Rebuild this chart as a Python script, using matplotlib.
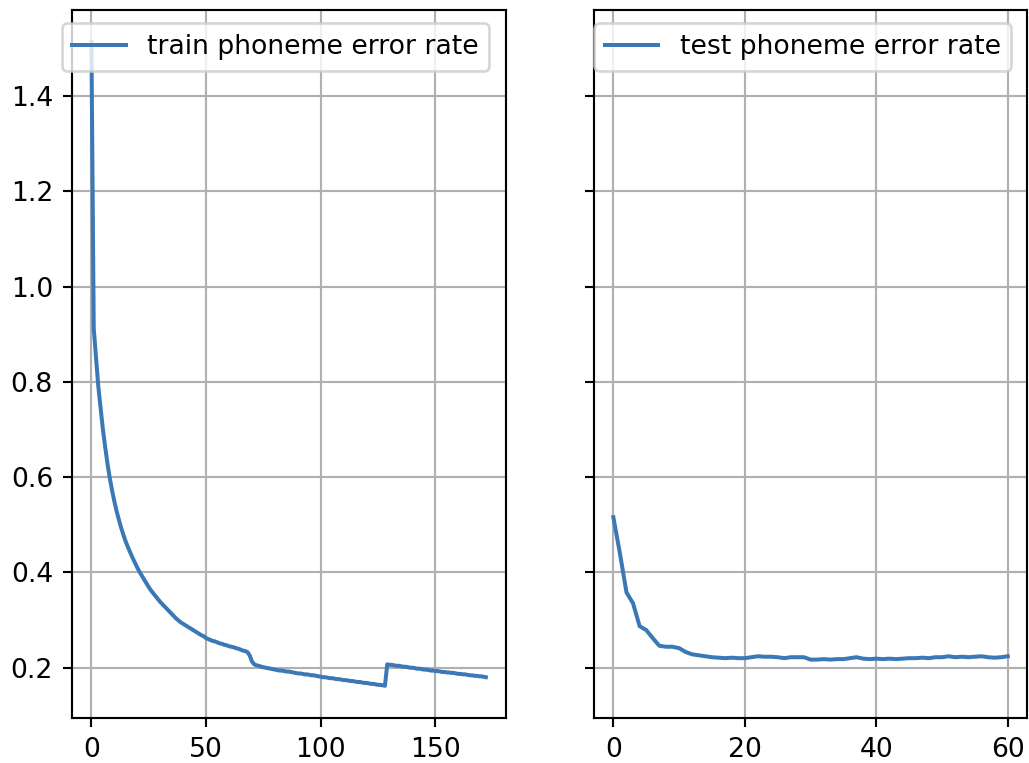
import matplotlib
matplotlib.use('Agg')
from matplotlib import pyplot as plt

# phoneme error rate per epoch
train_per = [
    1.513, 0.912, 0.850, 0.790, 0.745, 0.700, 0.663, 0.628, 0.598, 0.572,
    0.549, 0.528, 0.510, 0.493, 0.478, 0.464, 0.452, 0.441, 0.430, 0.420,
    0.410, 0.401, 0.393, 0.385, 0.377, 0.369, 0.362, 0.356, 0.350, 0.344,
    0.338, 0.333, 0.328, 0.323, 0.318, 0.313, 0.308, 0.303, 0.299, 0.295,
    0.292, 0.289, 0.286, 0.283, 0.280, 0.277, 0.274, 0.271, 0.268, 0.266,
    0.262, 0.260, 0.258, 0.256, 0.255, 0.253, 0.251, 0.250, 0.248, 0.247,
    0.245, 0.244, 0.243, 0.241, 0.240, 0.238, 0.236, 0.235, 0.233, 0.226,
    0.213, 0.207, 0.205, 0.204, 0.202, 0.201, 0.200, 0.199, 0.198, 0.197,
    0.196, 0.195, 0.194, 0.194, 0.193, 0.192, 0.192, 0.191, 0.190, 0.189,
    0.188, 0.188, 0.187, 0.186, 0.186, 0.185, 0.184, 0.184, 0.183, 0.182,
    0.181, 0.180, 0.180, 0.179, 0.178, 0.178, 0.177, 0.176, 0.176, 0.175,
    0.174, 0.174, 0.173, 0.172, 0.172, 0.171, 0.170, 0.170, 0.169, 0.168,
    0.168, 0.167, 0.166, 0.166, 0.165, 0.164, 0.164, 0.163, 0.162, 0.207,
    0.206, 0.206, 0.205, 0.204, 0.204, 0.203, 0.202, 0.202, 0.201, 0.200,
    0.200, 0.199, 0.198, 0.198, 0.197, 0.196, 0.196, 0.195, 0.194, 0.194,
    0.193, 0.193, 0.192, 0.191, 0.191, 0.190, 0.190, 0.189, 0.189, 0.188,
    0.187, 0.187, 0.186, 0.186, 0.185, 0.184, 0.184, 0.183, 0.183, 0.182,
    0.182, 0.181, 0.180,
]

test_per = [
    0.516, 0.440, 0.358, 0.335, 0.287, 0.279, 0.262, 0.246, 0.244, 0.244,
    0.241, 0.233, 0.228, 0.226, 0.224, 0.222, 0.221, 0.220, 0.221, 0.220,
    0.220, 0.222, 0.224, 0.223, 0.223, 0.222, 0.220, 0.222, 0.222, 0.222,
    0.217, 0.217, 0.218, 0.217, 0.218, 0.218, 0.220, 0.222, 0.219, 0.218,
    0.219, 0.218, 0.219, 0.218, 0.219, 0.220, 0.220, 0.221, 0.220, 0.222,
    0.222, 0.224, 0.222, 0.223, 0.222, 0.223, 0.224, 0.222, 0.221, 0.222,
    0.224,
]

fig, (ax1, ax2) = plt.subplots(1, 2, sharey=True, figsize=(1029 / 192, 763 / 192), dpi=192)
fig.subplots_adjust(left=0.0697, right=0.9985, top=0.9869, bottom=0.059, wspace=0.203)

ax1.plot(range(len(train_per)), train_per, color='#3a78b6', label='train phoneme error rate')
ax1.grid()
ax1.legend(loc='upper center', bbox_to_anchor=(0.47, 1))

ax2.plot(range(len(test_per)), test_per, color='#3a78b6', label='test phoneme error rate')
ax2.grid()
ax2.legend(loc='upper center', bbox_to_anchor=(0.482, 1))

plt.savefig('out.png')
